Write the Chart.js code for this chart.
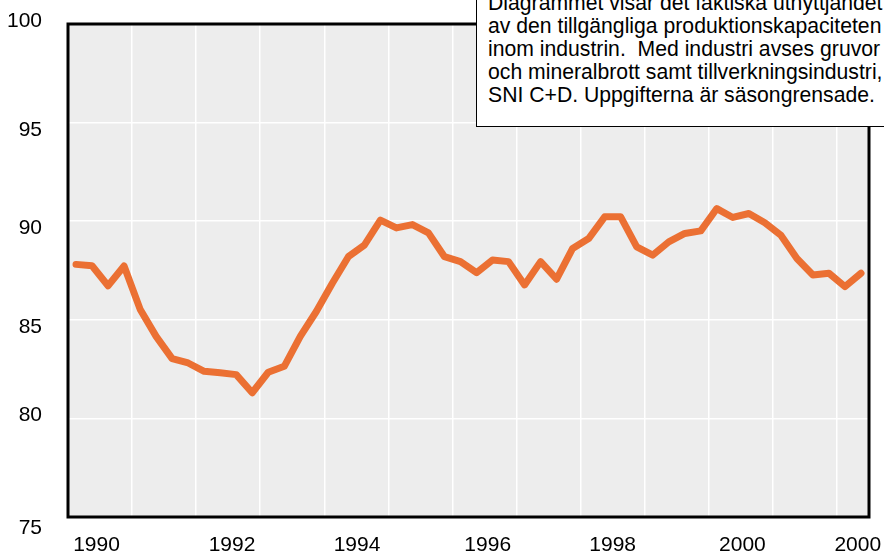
<!DOCTYPE html>
<html>
<head>
<meta charset="utf-8">
<script src="https://cdn.jsdelivr.net/npm/chart.js@4/dist/chart.umd.min.js"></script>
<style>
  html, body { margin: 0; padding: 0; background: #fff; }
  #wrap { position: relative; width: 884px; height: 554px; overflow: hidden; }
  #note {
    position: absolute; left: 476px; top: -10px; width: 430px; height: 137px;
    box-sizing: border-box; border: 1px solid #000; background: #fff;
    padding-left: 11px; font-family: "Liberation Sans", Arial, sans-serif;
    font-size: 21.2px; line-height: 23px; color: #000; white-space: nowrap;
  }
</style>
</head>
<body>
<div id="wrap">
  <canvas id="c" width="884" height="554"></canvas>
  <div id="note">Diagrammet visar det faktiska utnyttjandet<br>av den tillgängliga produktionskapaciteten<br>inom industrin.&nbsp; Med industri avses gruvor<br>och mineralbrott samt tillverkningsindustri,<br>SNI C+D. Uppgifterna är säsongrensade.</div>
</div>
<script>
// Quarterly data, 1990 Q1 onwards (50 quarters)
const quarters = Array.from({length: 50}, (_, i) => (1990 + Math.floor(i / 4)) + 'Q' + (i % 4 + 1));
const utilization = [
  87.81, 87.74, 86.73, 87.73, 85.54, 84.16, 83.03, 82.81, 82.39, 82.31,
  82.22, 81.30, 82.34, 82.64, 84.16, 85.42, 86.85, 88.20, 88.79, 90.05,
  89.66, 89.83, 89.41, 88.20, 87.95, 87.39, 88.03, 87.95, 86.77, 87.95,
  87.06, 88.62, 89.12, 90.22, 90.22, 88.70, 88.28, 88.95, 89.38, 89.51,
  90.64, 90.19, 90.39, 89.92, 89.29, 88.11, 87.27, 87.36, 86.68, 87.36
];
// x tick labels and where they sit (in quarters from the start)
const xTickLabels = ['1990', '1992', '1994', '1996', '1998', '2000', '2000'];
const xTickPositions = [1.78, 10.24, 18.04, 26.2, 34.0, 42.1, 49.3];
// vertical gridlines (every year, in quarters)
const xGridPositions = [4, 8, 12, 16, 20, 24, 28, 32, 36, 40, 44, 48];
// y tick labels and where they sit (as printed in the source, slightly off the gridlines)
const yTickLabels = ['75', '80', '85', '90', '95', '100'];
const yTickPositions = [74.42, 80.17, 84.64, 89.66, 94.62, 100.15];
const yGridPositions = [80, 85, 90, 95];
const yMin = 75, yMax = 100;

const points = utilization.map((v, i) => ({x: i + 0.5, y: v}));

const frame = {
  id: 'frame',
  beforeDraw(chart) {
    const {ctx, chartArea: a} = chart;
    ctx.save();
    ctx.fillStyle = '#ededed';
    ctx.fillRect(a.left, a.top, a.right - a.left, a.bottom - a.top);
    ctx.restore();
  },
  afterDraw(chart) {
    const {ctx, chartArea: a} = chart;
    ctx.save();
    ctx.strokeStyle = '#000';
    ctx.lineWidth = 3;
    ctx.strokeRect(a.left, a.top, a.right - a.left, a.bottom - a.top);
    ctx.restore();
  }
};

const font = {family: '"Liberation Sans", Arial, sans-serif', size: 21};
const allXTicks = [...xTickPositions, ...xGridPositions].sort((a, b) => a - b);
const allYTicks = [...yTickPositions, ...yGridPositions].sort((a, b) => a - b);

new Chart(document.getElementById('c'), {
  type: 'line',
  data: {
    labels: quarters,
    datasets: [{
      data: points,
      borderColor: '#eb7033',
      borderWidth: 7,
      borderJoinStyle: 'round',
      borderCapStyle: 'round',
      pointRadius: 0,
      tension: 0,
      fill: false
    }]
  },
  options: {
    responsive: false,
    animation: false,
    devicePixelRatio: 1,
    layout: {padding: {top: 24, right: 15, left: 0, bottom: 0}},
    plugins: {legend: {display: false}, tooltip: {enabled: false}},
    scales: {
      x: {
        type: 'linear',
        min: 0, max: 50,
        afterBuildTicks(axis) { axis.ticks = allXTicks.map(v => ({value: v})); },
        afterFit(axis) { axis.height = 37; axis.paddingLeft = 0; axis.paddingRight = 0; },
        border: {display: false},
        grid: {
          drawTicks: false,
          lineWidth: 1.5,
          color: ctx => (ctx.tick && xGridPositions.includes(ctx.tick.value)) ? '#ffffff' : 'rgba(0,0,0,0)'
        },
        ticks: {
          autoSkip: false, maxRotation: 0, minRotation: 0,
          color: '#000', font: font, padding: 16,
          callback: v => {
            const i = xTickPositions.indexOf(v);
            return i >= 0 ? xTickLabels[i] : '';
          }
        }
      },
      y: {
        min: yMin, max: yMax,
        afterBuildTicks(axis) { axis.ticks = allYTicks.map(v => ({value: v})); },
        afterFit(axis) { axis.width = 68; axis.paddingTop = 0; axis.paddingBottom = 0; },
        border: {display: false},
        grid: {
          drawTicks: false,
          lineWidth: 1.5,
          color: ctx => (ctx.tick && yGridPositions.includes(ctx.tick.value)) ? '#ffffff' : 'rgba(0,0,0,0)'
        },
        ticks: {
          autoSkip: false, color: '#000', font: font, padding: 26,
          callback: v => {
            const i = yTickPositions.indexOf(v);
            return i >= 0 ? yTickLabels[i] : '';
          }
        }
      }
    }
  },
  plugins: [frame]
});
</script>
</body>
</html>
